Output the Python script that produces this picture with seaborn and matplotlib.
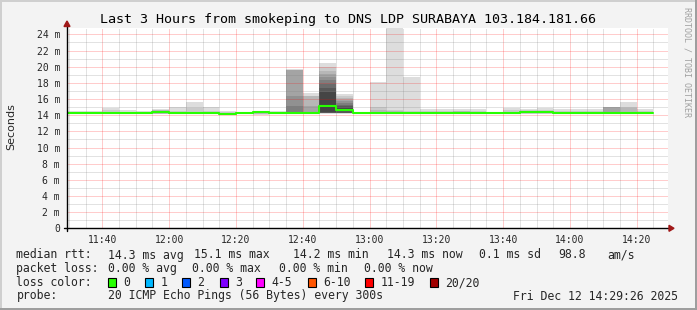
import matplotlib
matplotlib.use("Agg")
import matplotlib.pyplot as plt
from matplotlib.patches import Rectangle, Polygon
import seaborn as sns

# ---------------- data ----------------
interval_start = ["11:25", "11:30", "11:35", "11:40", "11:45", "11:50", "11:55",
                  "12:00", "12:05", "12:10", "12:15", "12:20", "12:25", "12:30",
                  "12:35", "12:40", "12:45", "12:50", "12:55", "13:00", "13:05",
                  "13:10", "13:15", "13:20", "13:25", "13:30", "13:35", "13:40",
                  "13:45", "13:50", "13:55", "14:00", "14:05", "14:10", "14:15",
                  "14:20"]

median_rtt = [14.3, 14.3, 14.3, 14.3, 14.3, 14.3, 14.4,
              14.3, 14.3, 14.3, 14.18, 14.3, 14.42, 14.3,
              14.3, 14.3, 15.1, 14.65, 14.3, 14.3, 14.3,
              14.3, 14.3, 14.3, 14.3, 14.3, 14.3, 14.3,
              14.42, 14.42, 14.3, 14.3, 14.3, 14.3, 14.3,
              14.3]

# 20 pings per step, given as (rtt ms, count)
ping_groups = [
    [(14.2, 2), (14.3, 16), (14.45, 1), (14.55, 1)],
    [(14.2, 2), (14.3, 16), (14.45, 1), (14.55, 1)],
    [(14.2, 2), (14.3, 16), (14.45, 1), (14.55, 1)],
    [(14.2, 2), (14.3, 16), (14.6, 1), (14.85, 1)],
    [(14.2, 2), (14.3, 17), (14.6, 1)],
    [(14.2, 2), (14.3, 17), (14.55, 1)],
    [(14.1, 1), (14.2, 2), (14.4, 14), (14.6, 2), (14.8, 1)],
    [(14.2, 2), (14.3, 16), (14.5, 1), (15.0, 1)],
    [(14.2, 2), (14.3, 16), (14.9, 1), (15.65, 1)],
    [(14.2, 2), (14.3, 16), (14.5, 1), (15.0, 1)],
    [(14.0, 1), (14.1, 3), (14.18, 14), (14.4, 1), (14.5, 1)],
    [(14.2, 2), (14.3, 17), (14.45, 1)],
    [(14.0, 1), (14.2, 2), (14.42, 16), (14.5, 1)],
    [(14.2, 2), (14.3, 17), (14.55, 1)],
    [(14.2, 1), (14.3, 13), (15.2, 1), (16.4, 1), (19.6, 3), (19.7, 1)],
    [(14.2, 1), (14.3, 15), (15.2, 1), (16.4, 2), (16.8, 1)],
    [(14.2, 1), (14.3, 7), (14.35, 1), (14.9, 1), (15.3, 1), (16.9, 1),
     (17.4, 1), (17.9, 1), (18.3, 1), (18.7, 1), (19.1, 1), (19.5, 1),
     (20.0, 1), (20.5, 1)],
    [(14.2, 1), (14.3, 7), (14.5, 1), (14.6, 1), (14.7, 1), (14.9, 1),
     (15.1, 1), (15.3, 1), (15.5, 1), (15.7, 1), (15.9, 1), (16.1, 1),
     (16.4, 1), (16.6, 1)],
    [(14.2, 2), (14.3, 18)],
    [(14.2, 2), (14.3, 15), (14.6, 1), (15.05, 1), (18.05, 1)],
    [(14.2, 2), (14.3, 15), (14.5, 1), (14.6, 1), (27.0, 1)],
    [(14.2, 2), (14.3, 16), (14.5, 1), (18.7, 1)],
    [(14.2, 2), (14.3, 16), (14.5, 1), (14.8, 1)],
    [(14.2, 2), (14.3, 16), (14.5, 1), (14.8, 1)],
    [(14.2, 2), (14.3, 15), (14.55, 2), (14.8, 1)],
    [(14.2, 2), (14.3, 16), (14.5, 1), (14.8, 1)],
    [(14.2, 2), (14.3, 18)],
    [(14.2, 2), (14.3, 16), (14.6, 1), (14.9, 1)],
    [(14.2, 2), (14.42, 16), (14.6, 1), (14.8, 1)],
    [(14.2, 2), (14.42, 16), (14.6, 1), (14.95, 1)],
    [(14.2, 2), (14.3, 16), (14.5, 1), (14.75, 1)],
    [(14.2, 2), (14.3, 16), (14.5, 1), (14.75, 1)],
    [(14.2, 2), (14.3, 16), (14.5, 1), (14.75, 1)],
    [(14.2, 2), (14.3, 14), (15.0, 3), (15.05, 1)],
    [(14.2, 2), (14.3, 15), (14.9, 1), (15.0, 1), (15.6, 1)],
    [(14.2, 2), (14.3, 16), (14.5, 1), (14.75, 1)],
]

x_tick_labels = ["11:40", "12:00", "12:20", "12:40", "13:00", "13:20",
                 "13:40", "14:00", "14:20"]
y_tick_values = [0, 2, 4, 6, 8, 10, 12, 14, 16, 18, 20, 22, 24]
y_tick_labels = ["0", "2 m", "4 m", "6 m", "8 m", "10 m", "12 m", "14 m",
                 "16 m", "18 m", "20 m", "22 m", "24 m"]

title = "Last 3 Hours from smokeping to DNS LDP SURABAYA 103.184.181.66"
window_start = "11:29:26"
window_end = "14:29:26"

rtt_stats = ["14.3 ms avg", "15.1 ms max", "14.2 ms min", "14.3 ms now",
             "0.1 ms sd", "98.8", "am/s"]
loss_stats = ["0.00 % avg", "0.00 % max", "0.00 % min", "0.00 % now"]
loss_labels = ["0", "1", "2", "3", "4-5", "6-10", "11-19", "20/20"]
loss_colors = ["#26ff00", "#00b8ff", "#0059ff", "#7e00ff", "#ff00ff",
               "#ff5500", "#ff0000", "#a10000"]
probe_text = "20 ICMP Echo Pings (56 Bytes) every 300s"
date_text = "Fri Dec 12 14:29:26 2025"

# ---------------- style ----------------
sns.set_style("white")
plt.rcParams["font.family"] = ["DejaVu Sans Mono", "DejaVu Sans"]
MONO = "DejaVu Sans Mono"

W, H = 697, 310
fig = plt.figure(figsize=(W / 100, H / 100), dpi=100, facecolor="#f3f3f3")


def fp(x, y):
    return (x / W, 1 - y / H)


L, R, T, B = 67, 668.3, 27.7, 228.3
ax = fig.add_axes([L / W, 1 - B / H, (R - L) / W, (B - T) / H])
ax.set_facecolor("white")


def tmin(s):
    parts = [int(p) for p in s.split(":")]
    v = parts[0] * 60 + parts[1]
    if len(parts) > 2:
        v += parts[2] / 60
    return v


x0, x1 = tmin(window_start), tmin(window_end)
ax.set_xlim(x0, x1)
ax.set_ylim(0, 24.83)
for s in ax.spines.values():
    s.set_visible(False)

step = 5
starts = [tmin(s) for s in interval_start]

# smoke (smokeping style nested bands)
for xs, groups in zip(starts, ping_groups):
    pings = sorted(v for v, c in groups for _ in range(c))
    n = len(pings)
    half = n / 2
    for ibot in range(1, n // 2 + 1):
        lo = pings[ibot - 1]
        hi = pings[n - ibot]
        if hi <= lo:
            continue
        g = int(190 / half * (half - ibot)) + 50
        col = "#%02x%02x%02x" % (g, g, g)
        ax.bar(xs, hi - lo, bottom=lo, width=step, align="edge", color=col,
               linewidth=0, antialiased=False, zorder=1 + ibot * 0.01)

# median line
xline = starts + [starts[-1] + step]
yline = median_rtt + [median_rtt[-1]]
sns.lineplot(x=xline, y=yline, ax=ax, drawstyle="steps-post", color="#26ff00",
             linewidth=1.5, estimator=None, sort=False, zorder=5)

# grid
for v in range(int(x0) + 1, int(x1) + 1):
    if v % 5:
        continue
    major = v % 20 == 0
    ax.axvline(v, color=(1, 0, 0, 0.4) if major else (0.5, 0.5, 0.5, 0.45),
               lw=0.72, ls=(0, (1, 1)), zorder=3)
for v in range(1, 25):
    major = v % 2 == 0
    ax.axhline(v, color=(1, 0, 0, 0.4) if major else (0.5, 0.5, 0.5, 0.45),
               lw=0.72, ls=(0, (1, 1)), zorder=3)

ax.set_xticks([tmin(s) for s in x_tick_labels])
ax.set_xticklabels(x_tick_labels, fontsize=7, family=MONO)
ax.set_yticks(y_tick_values)
ax.set_yticklabels(y_tick_labels, fontsize=7, family=MONO)
ax.tick_params(axis="both", length=2.5, width=0.7, color="#e08080",
               direction="out")
ax.tick_params(axis="x", pad=2)
ax.tick_params(axis="y", pad=2.5)
ax.set_xlabel("")
ax.set_ylabel("")

# axes lines + arrows
ax.plot([-3 / (R - L), 1 + 2 / (R - L)], [0, 0], transform=ax.transAxes,
        color="black", lw=1.0, clip_on=False, zorder=6)
ax.plot([0, 0], [-3 / (B - T), 1 + 2 / (B - T)], transform=ax.transAxes,
        color="black", lw=1.0, clip_on=False, zorder=6)
arrow_col = "#a01818"
fig.add_artist(Polygon([fp(669, 225.3), fp(669, 231.3), fp(674, 228.3)],
                       closed=True, transform=fig.transFigure, color=arrow_col))
fig.add_artist(Polygon([fp(64, 26.5), fp(70, 26.5), fp(67, 21)],
                       closed=True, transform=fig.transFigure, color=arrow_col))

# texts
fig.text(*fp(347.5, 19), title, ha="center", va="center", fontsize=9.6,
         family=MONO, color="black")
fig.text(*fp(11, 127), "Seconds", rotation=90, ha="center", va="center",
         fontsize=8, family="DejaVu Sans")
fig.text(*fp(687.5, 62), "RRDTOOL / TOBI OETIKER", rotation=270, ha="center",
         va="center", fontsize=6, family=MONO, color="#a0a0a0")

FS = 8.3
row_y = [255, 268.5, 282.5, 296]
fig.text(*fp(16.4, row_y[0]), "median rtt:", ha="left", va="center",
         fontsize=FS, family=MONO)
for xx, s in zip([107.6, 194.2, 293.3, 386.7, 479, 557.8, 607.6], rtt_stats):
    fig.text(*fp(xx, row_y[0]), s, ha="left", va="center", fontsize=FS,
             family=MONO)
fig.text(*fp(16.4, row_y[1]), "packet loss:", ha="left", va="center",
         fontsize=FS, family=MONO)
for xx, s in zip([107.6, 192, 278.7, 364.4], loss_stats):
    fig.text(*fp(xx, row_y[1]), s, ha="left", va="center", fontsize=FS,
             family=MONO)
fig.text(*fp(16.4, row_y[2]), "loss color:", ha="left", va="center",
         fontsize=FS, family=MONO)
box_x = [108.4, 145.3, 182.2, 219.6, 256.4, 307.6, 365.3, 430.2]
for bx, lab, col in zip(box_x, loss_labels, loss_colors):
    fig.add_artist(Rectangle(fp(bx, row_y[2] + 4.5), 8 / W, 9 / H,
                             transform=fig.transFigure, facecolor=col,
                             edgecolor="black", lw=0.8))
    fig.text(*fp(bx + 15.2, row_y[2]), lab, ha="left", va="center",
             fontsize=FS, family=MONO)
fig.text(*fp(16.4, row_y[3]), "probe:", ha="left", va="center",
         fontsize=FS, family=MONO)
fig.text(*fp(107.6, row_y[3]), probe_text, ha="left", va="center",
         fontsize=FS, family=MONO)
fig.text(*fp(513.3, row_y[3]), date_text, ha="left", va="center",
         fontsize=FS, family=MONO)

# 3D border
fig.add_artist(Rectangle(fp(0, 2), 1, 2 / H, transform=fig.transFigure,
                         color="#cfcfcf", lw=0))
fig.add_artist(Rectangle(fp(0, H), 2 / W, 1, transform=fig.transFigure,
                         color="#cfcfcf", lw=0))
fig.add_artist(Rectangle(fp(W - 2, H), 2 / W, 1, transform=fig.transFigure,
                         color="#9e9e9e", lw=0))
fig.add_artist(Rectangle(fp(0, H), 1, 2 / H, transform=fig.transFigure,
                         color="#9e9e9e", lw=0))

fig.savefig("out.png", dpi=100, facecolor=fig.get_facecolor())
